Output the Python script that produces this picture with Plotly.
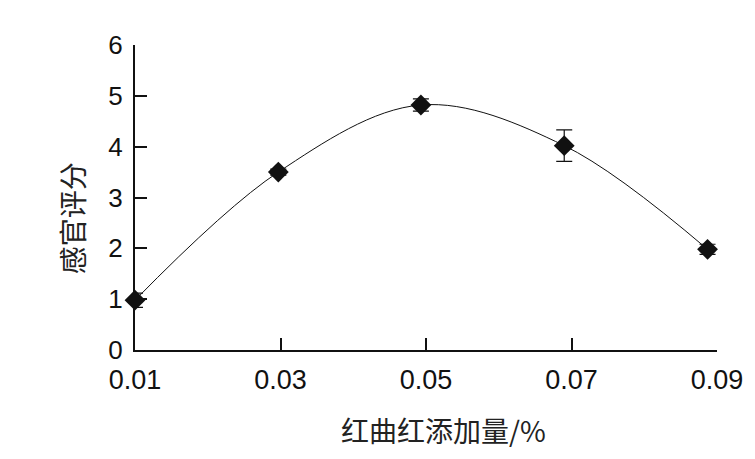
import plotly.graph_objects as go

# data
x_vals = [0.01, 0.0297, 0.0493, 0.0690, 0.0887]
y_vals = [0.98, 3.50, 4.82, 4.02, 1.98]
y_err = [0.14, 0.06, 0.12, 0.31, 0.10]
x_ticks = [0.01, 0.03, 0.05, 0.07, 0.09]
x_tick_text = ["0.01", "0.03", "0.05", "0.07", "0.09"]
y_ticks = [0, 1, 2, 3, 4, 5, 6]
x_title = "红曲红添加量/%"
y_title = "感官评分"

fig = go.Figure()
fig.add_trace(go.Scatter(
    x=x_vals, y=y_vals, mode="lines+markers",
    line=dict(color="#111", width=1, shape="spline", smoothing=1.0),
    marker=dict(symbol="diamond", size=16, color="#111"),
    error_y=dict(type="data", array=y_err, visible=True, color="#111", thickness=1.2, width=8),
    cliponaxis=False, showlegend=False,
))

# page body adds an 8px margin, so the figure is a bit smaller
OFF = 8
W, H = 755 - OFF, 459 - OFF
L, R, T, B = 135 - OFF, 35, 45 - OFF, 109
pw, ph = W - L - R, H - T - B

def px_x(px):
    return (px - OFF - L) / pw

def px_y(py):
    return (H - B - (py - OFF)) / ph

fig.update_layout(
    width=W, height=H,
    margin=dict(l=L, r=R, t=T, b=B),
    paper_bgcolor="white", plot_bgcolor="white",
    font=dict(family="Liberation Sans, Arial, sans-serif", color="#111"),
    xaxis=dict(
        range=[0.01, 0.09], tickmode="array", tickvals=x_ticks, ticktext=x_tick_text,
        showline=True, linecolor="#111", linewidth=2,
        ticks="inside", ticklen=12, tickwidth=2, tickcolor="#111", layer="above traces",
        showgrid=False, zeroline=False, tickfont=dict(size=27),
        ticklabelstandoff=5,
    ),
    yaxis=dict(
        range=[0, 6], tickmode="array", tickvals=y_ticks,
        showline=True, linecolor="#111", linewidth=2,
        ticks="inside", ticklen=12, tickwidth=2, tickcolor="#111", layer="above traces",
        showgrid=False, zeroline=False, tickfont=dict(size=26),
        ticklabelstandoff=5,
    ),
    annotations=[
        dict(text=x_title, xref="paper", yref="paper", x=px_x(445), y=px_y(430),
             xanchor="center", yanchor="middle", showarrow=False,
             font=dict(family="Noto Sans CJK SC", size=28, color="#222")),
        dict(text=y_title, xref="paper", yref="paper", x=px_x(72), y=px_y(218),
             xanchor="center", yanchor="middle", showarrow=False, textangle=-90,
             font=dict(family="Noto Sans CJK SC", size=28, color="#222")),
    ],
)

fig.write_html("out.html")
